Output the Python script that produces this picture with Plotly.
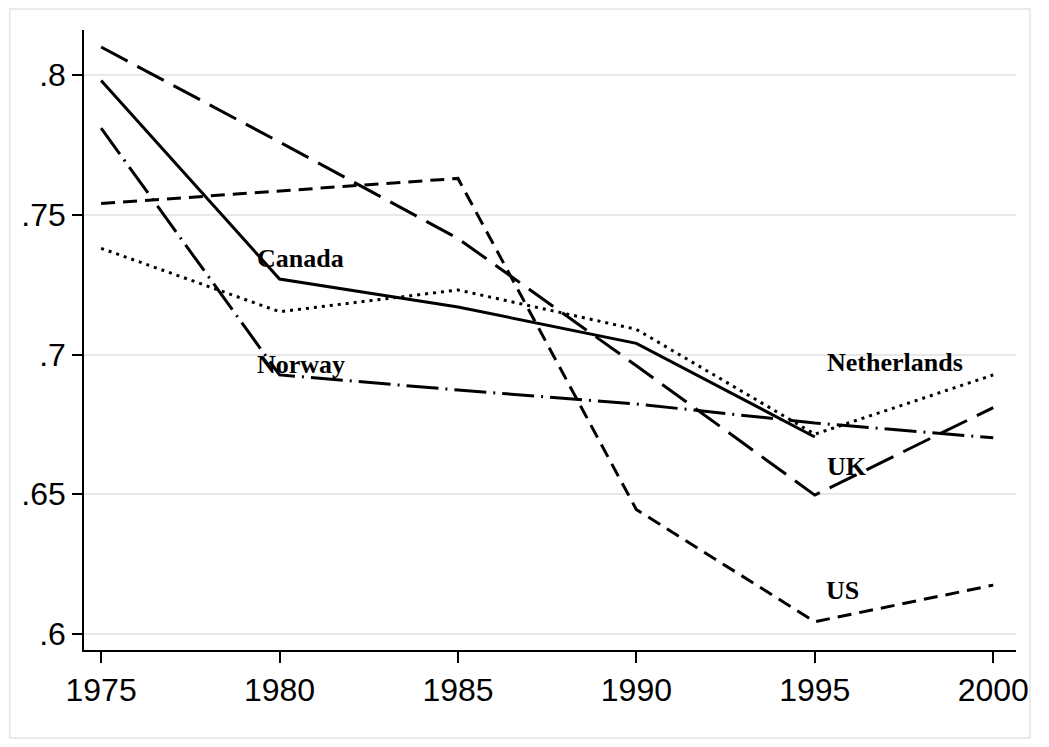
import plotly.graph_objects as go

years = [1975, 1980, 1985, 1990, 1995, 2000]
canada = [0.798, 0.727, 0.717, 0.704, 0.6705, None]
uk = [0.810, 0.776, 0.7415, 0.696, 0.6497, 0.681]
us = [0.754, 0.7585, 0.763, 0.6445, 0.6044, 0.6175]
netherlands = [0.738, 0.7153, 0.7231, 0.709, 0.6715, 0.6927]
norway = [0.781, 0.6927, 0.6873, 0.6823, 0.6755, 0.6702]

label_names = ["Canada", "Norway", "Netherlands", "UK", "US"]
label_x = [1979.32, 1979.32, 1995.28, 1995.28, 1995.25]
label_y = [0.7342, 0.6966, 0.6970, 0.6599, 0.6157]

y_ticks = [0.6, 0.65, 0.7, 0.75, 0.8]
y_ticktext = [".6", ".65", ".7", ".75", ".8"]
x_ticks = [1975, 1980, 1985, 1990, 1995, 2000]

fig = go.Figure()
styles = [
    ("Canada", canada, "solid", 3),
    ("UK", uk, "30px,11px", 3),
    ("US", us, "14px,8px", 3),
    ("Netherlands", netherlands, "3px,5px", 3),
    ("Norway", norway, "32px,7px,2px,7px", 3),
]
for name, vals, dash, w in styles:
    fig.add_trace(go.Scatter(x=years, y=vals, mode="lines", name=name,
                             line=dict(color="black", width=w, dash=dash),
                             connectgaps=False, showlegend=False))

for t, x, y in zip(label_names, label_x, label_y):
    fig.add_annotation(x=x, y=y, text="<b>%s</b>" % t, showarrow=False,
                       xanchor="left", yanchor="middle",
                       font=dict(family="Liberation Serif", size=26, color="black"))

fig.add_shape(type="rect", xref="paper", yref="paper",
              x0=-0.0796, x1=1.0149, y0=-0.1419, y1=1.0339,
              line=dict(color="#eaeaea", width=2), layer="below")

fig.update_layout(
    width=1033, height=731,
    margin=dict(l=76, r=15, t=22, b=89),
    paper_bgcolor="white", plot_bgcolor="white",
    font=dict(family="Liberation Sans", size=32, color="black"),
    showlegend=False,
)
fig.update_xaxes(range=[1974.5204, 2000.6377], tickvals=x_ticks,
                 ticks="outside", ticklen=11, tickwidth=1.5, tickcolor="black",
                 showline=True, linecolor="black", linewidth=1.5,
                 showgrid=False, zeroline=False,
                 tickfont=dict(family="Liberation Sans", size=32, color="black"))
fig.update_yaxes(range=[0.59428, 0.8161], tickvals=y_ticks, ticktext=y_ticktext,
                 ticks="outside", ticklen=10, tickwidth=1.5, tickcolor="black",
                 showline=True, linecolor="black", linewidth=1.5,
                 showgrid=True, gridcolor="#e8e8e8", gridwidth=2, zeroline=False,
                 tickfont=dict(family="Liberation Sans", size=32, color="black"))

fig.write_html("out.html")
